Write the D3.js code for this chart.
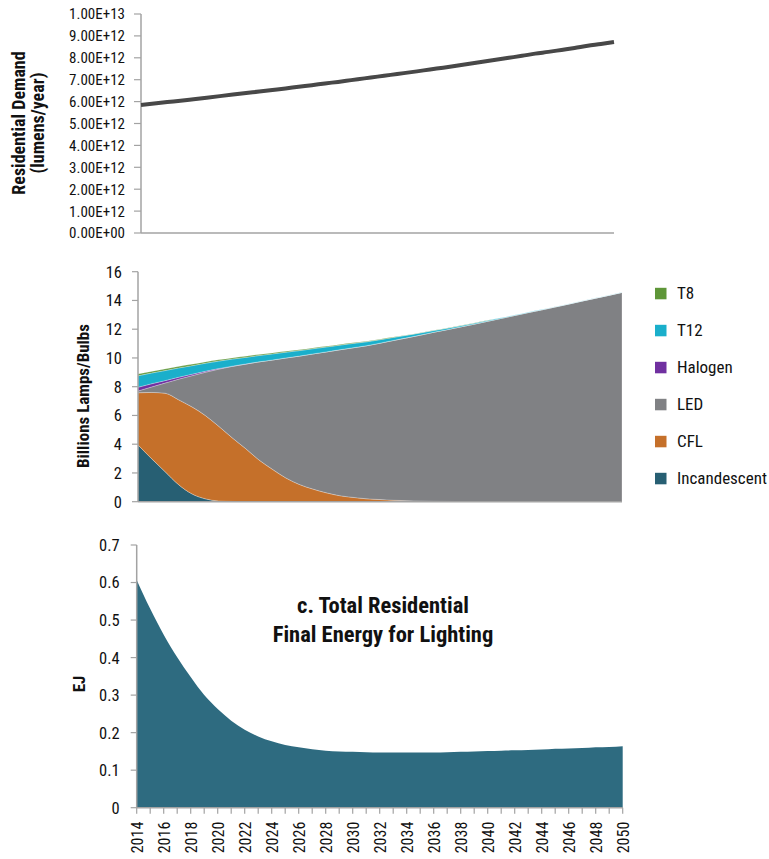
<!DOCTYPE html>
<html>
<head>
<meta charset="utf-8">
<script src="https://cdn.jsdelivr.net/npm/d3@7"></script>
<style>
  html, body { margin: 0; padding: 0; background: #fff; }
  svg text { font-family: "Roboto Condensed", "Liberation Sans Narrow", "Arial Narrow", "Roboto", sans-serif; fill: #111; }
</style>
</head>
<body>
<svg id="chart" width="769" height="859"></svg>
<script>
// ---- data ----
const years = d3.range(2014, 2051);

// a. residential lighting demand, lumens/year
const demand = [5.85e12, 5.91e12, 5.98e12, 6.04e12, 6.11e12, 6.18e12, 6.25e12, 6.32e12, 6.39e12, 6.46e12,
  6.53e12, 6.60e12, 6.68e12, 6.75e12, 6.83e12, 6.90e12, 6.98e12, 7.06e12, 7.14e12, 7.22e12,
  7.30e12, 7.38e12, 7.47e12, 7.55e12, 7.64e12, 7.73e12, 7.82e12, 7.91e12, 8.00e12, 8.09e12,
  8.19e12, 8.27e12, 8.36e12, 8.45e12, 8.55e12, 8.63e12, 8.72e12];
const demandTicks = [0, 1e12, 2e12, 3e12, 4e12, 5e12, 6e12, 7e12, 8e12, 9e12, 1e13];
const demandTickLabels = ["0.00E+00", "1.00E+12", "2.00E+12", "3.00E+12", "4.00E+12", "5.00E+12",
  "6.00E+12", "7.00E+12", "8.00E+12", "9.00E+12", "1.00E+13"];
const demandTitle = ["Residential Demand", "(lumens/year)"];

// b. lamp stock, billions, by technology
const incandescent = [3.95, 3.00, 2.10, 1.20, 0.55, 0.20, 0.05, 0.02, 0, 0, 0, 0, 0, 0, 0, 0, 0, 0, 0, 0,
  0, 0, 0, 0, 0, 0, 0, 0, 0, 0, 0, 0, 0, 0, 0, 0, 0];
const cfl = [3.63, 4.60, 5.45, 5.90, 6.05, 5.80, 5.20, 4.43, 3.70, 2.90, 2.25, 1.65, 1.20, 0.88, 0.62, 0.42,
  0.30, 0.20, 0.15, 0.10, 0.07, 0.05, 0.03, 0.02, 0.01, 0.01, 0, 0, 0, 0, 0, 0, 0, 0, 0, 0, 0];
const led = [0.12, 0.38, 0.70, 1.42, 2.16, 3.00, 3.97, 4.96, 5.87, 6.83, 7.61, 8.35, 8.93, 9.40, 9.80, 10.15,
  10.41, 10.65, 10.88, 11.12, 11.33, 11.54, 11.76, 11.95, 12.15, 12.34, 12.55, 12.75, 12.95, 13.15,
  13.34, 13.54, 13.74, 13.95, 14.15, 14.35, 14.56];
const halogen = [0.26, 0.22, 0.17, 0.13, 0.10, 0.07, 0.04, 0.02, 0.01, 0, 0, 0, 0, 0, 0, 0, 0, 0, 0, 0,
  0, 0, 0, 0, 0, 0, 0, 0, 0, 0, 0, 0, 0, 0, 0, 0, 0];
const t12 = [0.80, 0.75, 0.70, 0.65, 0.60, 0.56, 0.52, 0.49, 0.46, 0.44, 0.42, 0.40, 0.38, 0.36, 0.34, 0.32,
  0.30, 0.27, 0.24, 0.21, 0.18, 0.15, 0.12, 0.10, 0.08, 0.07, 0.06, 0.05, 0.04, 0.035, 0.03, 0.025,
  0.02, 0.015, 0.012, 0.01, 0.01];
const t8 = [0.12, 0.115, 0.11, 0.105, 0.10, 0.095, 0.09, 0.085, 0.08, 0.075, 0.07, 0.065, 0.06, 0.055,
  0.05, 0.045, 0.04, 0.035, 0.03, 0.025, 0.02, 0.018, 0.015, 0.012, 0.01, 0.008, 0.005, 0, 0, 0,
  0, 0, 0, 0, 0, 0, 0];
const lampTicks = [0, 2, 4, 6, 8, 10, 12, 14, 16];
const technologies = ["Incandescent", "CFL", "LED", "Halogen", "T12", "T8"];
const techColors = ["#275f73", "#c5702a", "#808184", "#7030a0", "#1aafcb", "#5e9638"];
const legendOrder = ["T8", "T12", "Halogen", "LED", "CFL", "Incandescent"];

// c. total residential final energy for lighting, EJ
const energy = [0.607, 0.530, 0.461, 0.401, 0.348, 0.300, 0.263, 0.232, 0.208, 0.190, 0.177, 0.167, 0.161,
  0.156, 0.152, 0.150, 0.149, 0.148, 0.147, 0.147, 0.147, 0.147, 0.147, 0.148, 0.149, 0.150, 0.151,
  0.152, 0.153, 0.154, 0.155, 0.157, 0.158, 0.159, 0.161, 0.162, 0.164];
const energyTicks = [0, 0.1, 0.2, 0.3, 0.4, 0.5, 0.6, 0.7];
const energyTickLabels = ["0", "0.1", "0.2", "0.3", "0.4", "0.5", "0.6", "0.7"];
const yearLabels = d3.range(2014, 2051, 2);
const energyTitle = ["c. Total Residential", "Final Energy for Lighting"];

// ---- drawing ----
const svg = d3.select("#chart");
const axisColor = "#a3a3a3";

function leftAxis(g, y, ticks, labels, x0, tickLen, labelGap, fontSize) {
  const [r0, r1] = y.range();
  g.append("line").attr("x1", x0).attr("x2", x0).attr("y1", r0).attr("y2", r1)
    .attr("stroke", axisColor).attr("stroke-width", 1.5);
  ticks.forEach((t, i) => {
    g.append("line").attr("x1", x0 - tickLen).attr("x2", x0).attr("y1", y(t)).attr("y2", y(t))
      .attr("stroke", axisColor).attr("stroke-width", 1.2);
    g.append("text").attr("x", x0 - tickLen - labelGap).attr("y", y(t)).attr("dy", "0.36em")
      .attr("text-anchor", "end").attr("font-size", fontSize).text(labels[i]);
  });
}

// rotated title; baselines are given as screen x positions
function axisTitle(lines, baselines, cy, fontSize) {
  const t = svg.append("text").attr("transform", `translate(0,${cy}) rotate(-90)`)
    .attr("text-anchor", "middle").attr("font-weight", "bold").attr("font-size", fontSize);
  lines.forEach((l, i) => {
    t.append("tspan").attr("x", 0).attr("y", baselines[i]).text(l);
  });
}

// a. demand line
{
  const x = d3.scaleLinear().domain([2014, 2050]).range([141, 614]);
  const y = d3.scaleLinear().domain([0, 1e13]).range([233, 14]);
  const g = svg.append("g");
  g.append("line").attr("x1", x(2014)).attr("x2", x(2050)).attr("y1", y(0)).attr("y2", y(0))
    .attr("stroke", axisColor).attr("stroke-width", 1.5);
  leftAxis(g, y, demandTicks, demandTickLabels, x(2014), 7, 9, 15);
  g.append("path").datum(years.map((yr, i) => [yr, demand[i]]))
    .attr("fill", "none").attr("stroke", "#484848").attr("stroke-width", 4)
    .attr("d", d3.line().x(d => x(d[0])).y(d => y(d[1])).curve(d3.curveMonotoneX));
  axisTitle(demandTitle, [25, 44], 123, 18);
}

// b. stacked lamp stock
{
  const x = d3.scaleLinear().domain([2014, 2050]).range([138, 622]);
  const y = d3.scaleLinear().domain([0, 16]).range([501.7, 271.7]);
  const series = { Incandescent: incandescent, CFL: cfl, LED: led, Halogen: halogen, T12: t12, T8: t8 };
  const rows = years.map((yr, i) => {
    const r = { year: yr };
    technologies.forEach(k => r[k] = series[k][i]);
    return r;
  });
  const stack = d3.stack().keys(technologies)(rows);
  const color = d3.scaleOrdinal().domain(technologies).range(techColors);
  const area = d3.area().x(d => x(d.data.year)).y0(d => y(d[0])).y1(d => y(d[1])).curve(d3.curveMonotoneX);
  const g = svg.append("g");
  g.selectAll("path.layer").data(stack).join("path").attr("class", "layer")
    .attr("fill", d => color(d.key)).attr("d", area)
    .attr("stroke", "rgba(255,255,255,0.45)").attr("stroke-width", 0.6);
  g.append("line").attr("x1", x(2014)).attr("x2", x(2050)).attr("y1", y(0)).attr("y2", y(0))
    .attr("stroke", axisColor).attr("stroke-width", 1.5);
  leftAxis(g, y, lampTicks, lampTicks.map(String), x(2014), 6, 10, 16.5);
  axisTitle(["Billions Lamps/Bulbs"], [89], 396, 17);

  const lg = svg.append("g");
  legendOrder.forEach((k, i) => {
    const cy = 293.3 + i * 37;
    lg.append("rect").attr("x", 655).attr("y", cy - 5.5).attr("width", 11.5).attr("height", 11.5).attr("fill", color(k));
    lg.append("text").attr("x", 677).attr("y", cy).attr("dy", "0.36em").attr("font-size", 17).text(k);
  });
}

// c. final energy area
{
  const x = d3.scaleLinear().domain([2014, 2050]).range([136.7, 622.7]);
  const y = d3.scaleLinear().domain([0, 0.7]).range([807.7, 545]);
  const g = svg.append("g");
  g.append("path").datum(years.map((yr, i) => [yr, energy[i]]))
    .attr("fill", "#2e6b80")
    .attr("d", d3.area().x(d => x(d[0])).y0(y(0)).y1(d => y(d[1])).curve(d3.curveMonotoneX));
  g.append("line").attr("x1", x(2014)).attr("x2", x(2050)).attr("y1", y(0)).attr("y2", y(0))
    .attr("stroke", axisColor).attr("stroke-width", 1.5);
  years.forEach(yr => {
    g.append("line").attr("x1", x(yr)).attr("x2", x(yr)).attr("y1", y(0)).attr("y2", y(0) + 6)
      .attr("stroke", axisColor).attr("stroke-width", 1.2);
  });
  yearLabels.forEach(yr => {
    g.append("text").attr("transform", `translate(${x(yr)},${y(0) + 14}) rotate(-90)`)
      .attr("text-anchor", "end").attr("dy", "0.42em").attr("font-size", 16).text(yr);
  });
  leftAxis(g, y, energyTicks, energyTickLabels, x(2014), 6, 11, 16.5);
  axisTitle(["EJ"], [85], 684, 17);
  const tt = svg.append("text").attr("text-anchor", "middle").attr("font-weight", "bold").attr("font-size", 22.5);
  energyTitle.forEach((l, i) => {
    tt.append("tspan").attr("x", 383).attr("y", 613 + i * 29).text(l);
  });
}
</script>
</body>
</html>
